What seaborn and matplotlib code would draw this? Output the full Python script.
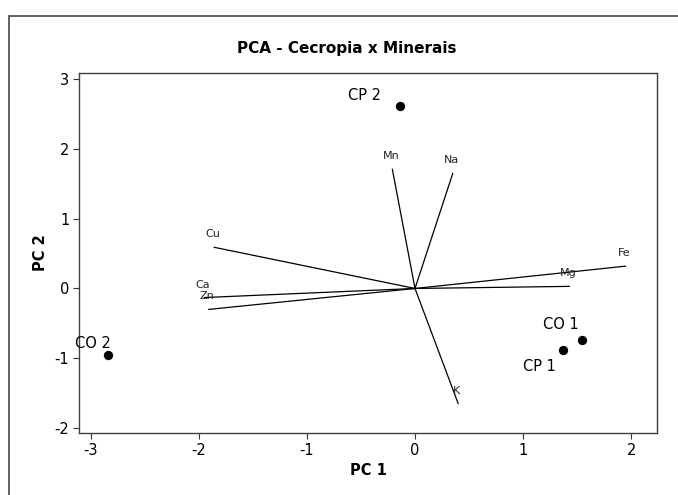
import numpy as np
import pandas as pd
import seaborn as sns
from matplotlib import pyplot as plt
from matplotlib.patches import Rectangle

sns.set_style("ticks")
plt.rcParams['font.family'] = ['DejaVu Sans']
plt.rcParams.update({'axes.unicode_minus': False, 'text.color': 'black',
                     'axes.labelcolor': 'black', 'xtick.color': '#333333',
                     'ytick.color': '#333333', 'xtick.labelcolor': 'black',
                     'ytick.labelcolor': 'black'})

# sample scores (PC1, PC2)
samples = ['CP 2', 'CO 2', 'CO 1', 'CP 1']
score_pc1 = [-0.14, -2.84, 1.55, 1.37]
score_pc2 = [2.62, -0.96, -0.74, -0.88]
# label offsets in pixels (dx, dy up)
label_dx = [-35, -15, -22, -24]
label_dy = [10, 12, 16, -17]

# mineral loadings
minerals = ['Mn', 'Na', 'Cu', 'Ca', 'Zn', 'Fe', 'Mg', 'K']
load_pc1 = [-0.21, 0.35, -1.86, -1.95, -1.91, 1.95, 1.43, 0.40]
load_pc2 = [1.71, 1.65, 0.59, -0.13, -0.30, 0.32, 0.03, -1.65]

xticks = [-3, -2, -1, 0, 1, 2]
yticks = [-2, -1, 0, 1, 2, 3]

scores = pd.DataFrame({'sample': samples, 'PC1': score_pc1, 'PC2': score_pc2})

fig = plt.figure(figsize=(6.78, 4.95), dpi=100)
ax = fig.add_axes([79 / 678, 1 - 433 / 495, (657 - 79) / 678, (433 - 73) / 495])

px = 0.72  # points per pixel

# loadings as lines from origin
for name, x, y in zip(minerals, load_pc1, load_pc2):
    ax.plot([0, x], [0, y], color='black', lw=0.9, zorder=2)
    ax.annotate(name, (x, y), xytext=(-1.5 * px, 13 * px), textcoords='offset points',
                ha='center', va='center', fontsize=8, color='#222222')

sns.scatterplot(data=scores, x='PC1', y='PC2', color='black', s=45,
                edgecolor='black', linewidth=0, ax=ax, zorder=3)
for name, x, y, dx, dy in zip(samples, score_pc1, score_pc2, label_dx, label_dy):
    ax.annotate(name, (x, y), xytext=(dx * px, dy * px), textcoords='offset points',
                ha='center', va='center', fontsize=10.5, color='black')

ax.set_xlim(-3.11, 2.24)
ax.set_ylim(-2.07, 3.086)
ax.set_xticks(xticks)
ax.set_yticks(yticks)
ax.tick_params(labelsize=10.5, length=4, width=0.8, pad=3)
for sp in ax.spines.values():
    sp.set_visible(True)
    sp.set_color('#404040')
    sp.set_linewidth(1.0)

ax.set_xlabel('PC 1', fontsize=10.5, fontweight='bold', labelpad=4)
ax.set_ylabel('PC 2', fontsize=10.5, fontweight='bold', labelpad=5)

fig.text(347 / 678, 1 - 49 / 495, 'PCA - Cecropia x Minerais', ha='center', va='center',
         fontsize=11, fontweight='bold')

# outer frame, runs off the right and bottom edge
fig.patches.append(Rectangle((9 / 678, -0.1), 1.2, 1 - 16 / 495 + 0.1, transform=fig.transFigure,
                             fill=False, edgecolor='#555555', lw=1.3, figure=fig))

fig.savefig('out.png', dpi=100)
